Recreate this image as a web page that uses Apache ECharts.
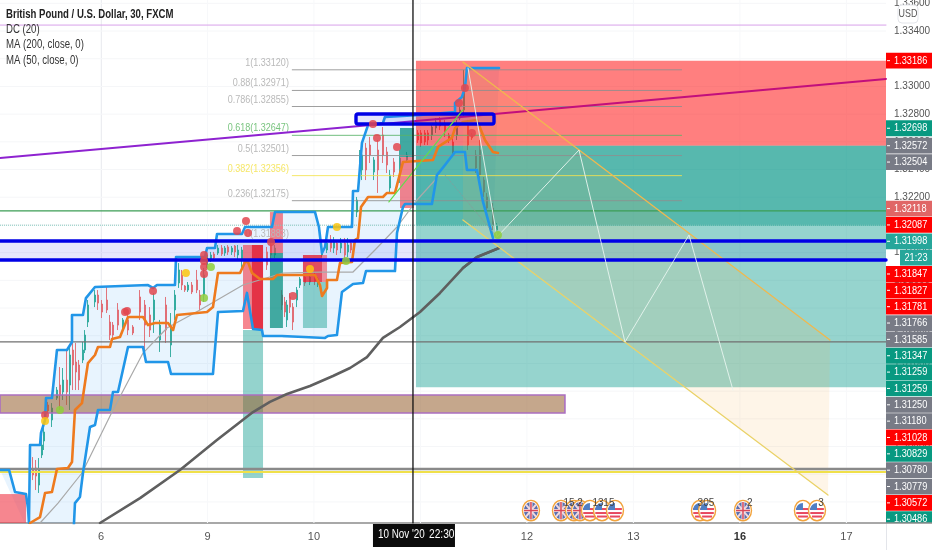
<!DOCTYPE html>
<html><head><meta charset="utf-8">
<style>html,body{margin:0;padding:0;background:#fff}#c{width:932px;height:550px}</style>
<script src="https://cdn.jsdelivr.net/npm/echarts@6/dist/echarts.min.js"></script>
</head><body><div id="c"></div>
<script>
// ---- axes (x is trading-day index: 0 = "6", 1 = "9", ...)
const dayLabels = ['6','9','10','11','12','13','16','17'];
const priceTicks = [1.336,1.334,1.332,1.330,1.328,1.326,1.324,1.322,1.320,1.318,1.316,1.314,1.312,1.310,1.308,1.306,1.304,1.302,1.300];
// ---- right-hand price tags
const tagPrices = [1.33186,1.32698,1.32572,1.32504,1.32118,1.32087,1.31998,1.31998,1.31847,1.31827,1.31781,1.31766,1.31585,1.31347,1.31259,1.31259,1.31250,1.31180,1.31028,1.30829,1.30780,1.30779,1.30572,1.30486];
const tagTexts = ['1.33186','1.32698','1.32572','1.32504','1.32118','1.32087','1.31998','21:23','1.31847','1.31827','1.31781','1.31766','1.31585','1.31347','1.31259','1.31259','1.31250','1.31180','1.31028','1.30829','1.30780','1.30779','1.30572','1.30486'];
const tagKinds = 'r t g g s r q q r r r g g t t t g g r t g g r t'.split(' ');
// ---- fibonacci
const fibPrices = [1.33120,1.32971,1.32855,1.32647,1.32501,1.32356,1.32175,1.31883];
const fibLabels = ['1(1.33120)','0.88(1.32971)','0.786(1.32855)','0.618(1.32647)','0.5(1.32501)','0.382(1.32356)','0.236(1.32175)','0(1.31883)'];
const fibSpan = [1.793,5.456];
// ---- donchian channel
const dcUpper = [[-0.948,1.30231],[-0.863,1.30231],[-0.807,1.30072],[-0.704,1.30057],[-0.685,1.29956],[-0.676,1.2985],[-0.666,1.30411],[-0.572,1.30411],[-0.563,1.30498],[-0.525,1.30592],[-0.516,1.3075],[-0.46,1.3075],[-0.413,1.31097],[-0.319,1.31097],[-0.272,1.31155],[-0.272,1.3135],[-0.169,1.3135],[-0.141,1.31472],[-0.056,1.31552],[0.442,1.31566],[0.489,1.31545],[0.526,1.31566],[0.695,1.31566],[0.705,1.31768],[0.977,1.31768],[0.996,1.31833],[1.071,1.31833],[1.09,1.31935],[1.324,1.31935],[1.353,1.31985],[1.606,1.31985],[1.634,1.32093],[2.01,1.32093],[2.047,1.31985],[2.076,1.31797],[2.104,1.31841],[2.132,1.31985],[2.357,1.31985],[2.367,1.32245],[2.414,1.32245],[2.451,1.32592],[2.508,1.32721],[2.648,1.32736],[2.667,1.32779],[2.996,1.32794],[3.325,1.32815],[3.325,1.3288],[3.39,1.32924],[3.418,1.32989],[3.437,1.33133],[3.738,1.33133]];
const dcLower = [[-0.666,1.29761],[-0.262,1.29761],[-0.253,1.29848],[-0.244,1.29992],[-0.197,1.30036],[-0.169,1.30209],[-0.103,1.30541],[-0.056,1.30555],[-0.028,1.30664],[0.085,1.30664],[0.113,1.30794],[0.16,1.30794],[0.254,1.31119],[0.395,1.31119],[0.423,1.3101],[0.63,1.3101],[0.658,1.30924],[1.052,1.30924],[1.099,1.31371],[1.334,1.31379],[1.371,1.31509],[1.428,1.31249],[1.512,1.31241],[1.522,1.31198],[1.7,1.31198],[1.71,1.31184],[2.104,1.31184],[2.132,1.31198],[2.216,1.31205],[2.263,1.31516],[2.367,1.31574],[2.461,1.31581],[2.489,1.31667],[2.761,1.31667],[2.78,1.31942],[2.836,1.32129],[2.855,1.32151],[3.108,1.32151],[3.155,1.3236],[3.231,1.32433],[3.325,1.32527],[3.418,1.32527],[3.437,1.32397],[3.531,1.32397],[3.588,1.32166],[3.681,1.31906]];
// ---- moving averages
const ma50 = [[-0.666,1.29848],[-0.572,1.29891],[-0.525,1.30065],[-0.46,1.30072],[-0.413,1.30238],[-0.31,1.30245],[-0.272,1.30288],[-0.244,1.30664],[-0.178,1.30714],[-0.122,1.31003],[-0.056,1.31061],[-0.028,1.31119],[0.085,1.31119],[0.104,1.31176],[0.179,1.31191],[0.254,1.31335],[0.395,1.31335],[0.442,1.31277],[0.508,1.31292],[0.63,1.31292],[0.677,1.31241],[0.714,1.3135],[0.996,1.31371],[1.052,1.31407],[1.099,1.31653],[1.306,1.31653],[1.353,1.31732],[1.381,1.31732],[1.419,1.31653],[1.493,1.3161],[1.615,1.3161],[1.653,1.31638],[2.01,1.31638],[2.057,1.31566],[2.076,1.31487],[2.123,1.31545],[2.123,1.31602],[2.216,1.31602],[2.245,1.31725],[2.357,1.31732],[2.385,1.31891],[2.414,1.31906],[2.442,1.32129],[2.508,1.32202],[2.648,1.32202],[2.686,1.32231],[2.761,1.32231],[2.836,1.32454],[3.118,1.32469],[3.165,1.32563],[3.296,1.32628],[3.325,1.327],[3.399,1.32743],[3.531,1.32758],[3.606,1.32613],[3.681,1.32527],[3.728,1.32519]];
const ma200 = [[-0.009,1.29848],[0.367,1.30028],[0.742,1.30231],[1.089,1.30447],[1.428,1.30649],[1.587,1.30722],[1.747,1.30779],[1.963,1.30837],[2.179,1.30909],[2.339,1.30967],[2.498,1.31046],[2.648,1.31184],[2.808,1.31263],[2.996,1.31371],[3.184,1.31509],[3.399,1.31689],[3.531,1.31768],[3.738,1.31833]];
const maThin = [[-0.572,1.29848],[-0.403,1.29992],[-0.178,1.30209],[0.113,1.30664],[0.395,1.31075],[0.62,1.31256],[0.93,1.31386],[1.334,1.31566],[1.71,1.31653],[2.057,1.3166],[2.367,1.3166],[2.573,1.31819],[2.78,1.31985],[2.968,1.3218],[3.155,1.32339]];
// ---- candles: [day, open, close, low, high]
const candlesA = [[-0.638,1.30231,1.30195,1.30158,1.30324],[-0.61,1.30245,1.30187,1.30086,1.30303],[-0.582,1.30122,1.30231,1.30065,1.30317],[-0.554,1.30339,1.30411,1.30317,1.30469],[-0.535,1.3044,1.30505,1.30375,1.30556],[-0.497,1.307,1.30657,1.30642,1.30722],[-0.46,1.30592,1.30678,1.30541,1.30714],[-0.413,1.3075,1.30808,1.30736,1.3083],[-0.385,1.30844,1.30772,1.30664,1.30974],[-0.356,1.30794,1.3088,1.30736,1.30967],[-0.319,1.3088,1.30794,1.307,1.31097],[-0.291,1.30844,1.31061,1.30664,1.31119],[-0.263,1.31097,1.30989,1.30808,1.31155],[-0.234,1.3101,1.30938,1.30808,1.31148],[-0.206,1.30989,1.3088,1.30808,1.31025],[-0.169,1.31025,1.31097,1.31003,1.31155],[-0.15,1.31097,1.31205,1.31075,1.31241],[-0.122,1.31299,1.31422,1.31263,1.31458],[-0.056,1.31444,1.31494,1.31407,1.3153],[-0.028,1.31494,1.31436,1.31386,1.3153],[0.01,1.31429,1.31371,1.31328,1.31458],[0.057,1.31458,1.31386,1.31364,1.31552],[0.085,1.31299,1.31205,1.31169,1.3135],[0.113,1.31277,1.31205,1.31169,1.31299],[0.16,1.31386,1.31277,1.31241,1.31436],[0.207,1.31263,1.31314,1.31241,1.31328],[0.254,1.31314,1.31241,1.31205,1.3135],[0.301,1.31263,1.3122,1.31205,1.31277],[0.367,1.3148,1.31371,1.31314,1.3153],[0.414,1.31422,1.31277,1.31097,1.31458],[0.461,1.3135,1.31241,1.31191,1.31407],[0.498,1.31314,1.31458,1.3122,1.31508],[0.554,1.31169,1.31277,1.31083,1.31314],[0.611,1.31422,1.31241,1.31148,1.3148],[0.658,1.31133,1.31277,1.31046,1.31364],[0.695,1.31386,1.31494,1.31314,1.3153]];
const candlesB = [[0.733,1.31581,1.31675,1.31545,1.31725],[0.761,1.31638,1.31566,1.3153,1.31675],[0.789,1.31559,1.3153,1.31516,1.31566],[0.817,1.3153,1.31566,1.31516,1.31588],[0.855,1.31566,1.31516,1.31501,1.31588],[0.902,1.31602,1.3153,1.31508,1.31675],[0.93,1.31494,1.31422,1.31386,1.3153],[0.968,1.31494,1.31638,1.31444,1.31689],[0.996,1.31711,1.31783,1.31689,1.31805],[1.033,1.31747,1.31783,1.31732,1.31805],[1.061,1.3179,1.31761,1.31747,1.31805],[1.099,1.31797,1.31833,1.31783,1.31855],[1.136,1.31833,1.3179,1.31776,1.31855],[1.165,1.31797,1.31833,1.31776,1.31848],[1.193,1.31841,1.31805,1.31783,1.31855],[1.231,1.31805,1.31833,1.31783,1.31848],[1.259,1.31848,1.31805,1.31768,1.31855],[1.287,1.31783,1.31819,1.31747,1.31855],[1.324,1.31747,1.31819,1.31689,1.31841],[1.559,1.31805,1.31711,1.31675,1.31841],[1.597,1.31855,1.31783,1.31732,1.31891],[1.634,1.31783,1.31833,1.31761,1.31855],[1.7,1.31494,1.31422,1.31386,1.3153],[1.728,1.31444,1.31371,1.31335,1.3148],[1.747,1.31314,1.31422,1.31263,1.31458],[1.775,1.3148,1.31407,1.31364,1.31508],[1.803,1.31407,1.31299,1.31241,1.31436],[1.841,1.31458,1.3153,1.31407,1.31552],[1.869,1.31566,1.3161,1.31545,1.31624],[1.916,1.31624,1.31581,1.31559,1.31638],[1.963,1.31588,1.31624,1.31566,1.31638],[2.01,1.31638,1.31595,1.31566,1.3166],[2.038,1.31573,1.3161,1.31552,1.31624],[2.076,1.31783,1.31805,1.31768,1.31819],[2.123,1.31819,1.31869,1.31797,1.31906],[2.16,1.31891,1.31833,1.31805,1.31927],[2.188,1.31833,1.31877,1.31797,1.31913],[2.216,1.31869,1.31819,1.31783,1.31891],[2.254,1.31833,1.31869,1.31797,1.31906],[2.292,1.31869,1.31783,1.31747,1.31906],[2.32,1.31805,1.31855,1.31768,1.31906],[2.348,1.31869,1.31819,1.31797,1.31891]];
const candlesC = [[2.404,1.32093,1.3218,1.32057,1.32202],[2.432,1.32411,1.32505,1.32375,1.32541],[2.451,1.32397,1.32505,1.32324,1.32541],[2.489,1.32555,1.32397,1.32324,1.32592],[2.526,1.32577,1.32505,1.32447,1.32635],[2.564,1.32382,1.32469,1.32324,1.3249],[2.601,1.32541,1.32397,1.32231,1.32613],[2.648,1.32649,1.32505,1.32447,1.32707],[2.686,1.32527,1.32433,1.32375,1.32563],[2.714,1.32267,1.3236,1.32231,1.32397],[2.752,1.32454,1.32382,1.32346,1.32483],[2.808,1.3236,1.32483,1.32303,1.32541],[2.874,1.32469,1.32505,1.32447,1.32527],[2.977,1.32664,1.32613,1.32592,1.32685],[3.005,1.32664,1.32592,1.32563,1.32685],[3.043,1.32664,1.32599,1.32577,1.32685],[3.071,1.32664,1.32613,1.32577,1.32685],[3.108,1.32649,1.32707,1.32613,1.32736],[3.146,1.327,1.32743,1.32664,1.32772],[3.184,1.32758,1.32714,1.32685,1.32779],[3.231,1.32721,1.32671,1.32635,1.32758],[3.268,1.32649,1.32613,1.32592,1.32664],[3.306,1.32599,1.32527,1.3249,1.32628],[3.343,1.32649,1.32721,1.32613,1.32758],[3.371,1.32772,1.3283,1.32758,1.32851],[3.409,1.3283,1.3301,1.32779,1.33119],[3.447,1.32721,1.32577,1.32541,1.32758],[3.484,1.32649,1.32628,1.32613,1.32664],[3.522,1.32505,1.32411,1.32375,1.32541],[3.559,1.32541,1.3236,1.32303,1.32613],[3.597,1.32324,1.32238,1.32202,1.32346],[3.625,1.32202,1.32122,1.32086,1.32231],[3.681,1.32122,1.31999,1.31963,1.32158],[3.719,1.31963,1.31992,1.31942,1.32014]];
// ---- markers: [day, price]
const redDots = [[-0.525,1.30628],[0.226,1.31371],[0.245,1.31379],[0.489,1.31523],[0.968,1.31783],[0.968,1.3174],[0.968,1.31696],[0.968,1.31646],[1.278,1.31956],[1.362,1.32028],[1.381,1.31942],[1.597,1.31877],[1.803,1.31487],[2.554,1.32729],[2.592,1.32628],[2.78,1.32563],[3.362,1.3288],[3.418,1.32989],[3.484,1.32664]];
const yellowDots = [[-0.525,1.30584],[0.798,1.31653],[1.963,1.31682],[2.216,1.31985]];
const greenDots = [[-0.385,1.30664],[1.033,1.31696],[0.968,1.31472],[2.301,1.3174],[3.728,1.31927]];
// ---- drawn levels and lines
const levelPurple = 1.33443, levelGreen = 1.32101, levelDotted = 1.31998, levelGrayMid = 1.31155, levelGrayLow = 1.30238, levelYellow = 1.30216;
const blueLevels = [1.31884,1.31747];
const trendLeft = [[-0.948,1.32483],[2.958,1.3275]];
const trendRight = [[2.958,1.3275],[7.372,1.33054]];
const channelUpper = [[3.399,1.33176],[6.846,1.31169]];
const channelLower = [[3.399,1.32036],[6.827,1.3005]];
const zigzag = [[3.447,1.33133],[3.719,1.31913],[4.489,1.32541],[4.921,1.31155],[5.522,1.31927],[5.935,1.30808]];
const greenRay = [[2.704,1.32166],[3.399,1.3283]];
const dottedRay = [[3.231,1.3236],[3.719,1.31913]];
const crossDay = 2.93;
// ---- boxes: [day0, priceA, day1, priceB]
const redZone = [[2.958,1.33186,7.372,1.32572]];
const tealZoneLight = [[2.958,1.32572,7.372,1.30829]];
const tealZoneDark = [[2.958,1.32572,7.372,1.31992]];
const brownBand = [[-0.948,1.30772,4.357,1.30642]];
const blueBox = [[2.395,1.32801,3.691,1.32729]];
const lavenderBand = [[-0.948,1.31884,7.372,1.31747]];
const pinkBoxes = [[1.334,1.31855,1.522,1.31249],[1.587,1.32093,1.709,1.31797],[-0.948,1.30057,-0.704,1.29848],[2.808,1.3249,2.939,1.32122]];
const strongRedBoxes = [[1.418,1.31855,1.522,1.31249],[1.897,1.31783,2.076,1.31588]];
const softRedBoxes = [[2.076,1.31783,2.123,1.31588]];
const paleTealBoxes = [[1.334,1.31241,1.522,1.30173],[1.897,1.31588,2.123,1.31256]];
const deepTealBoxes = [[1.587,1.31797,1.709,1.31256],[2.808,1.327,2.939,1.3249]];
// ---- economic calendar
const ukFlags = [4.038,4.320,4.442,4.498,6.029];
const usFlags = [4.592,4.705,4.827,5.625,5.692,6.592,6.724];
const flagPrice = 1.29938;
const eventDays = [4.395,4.498,4.667,4.770,5.681,6.094,6.761];
const eventTexts = ['15','2','13','15','305','2','3'];
const eventPrice = 1.29992;

const sans = '"Liberation Sans",Arial,sans-serif';
const yMin = 1.29848, yMax = 1.33624, xMin = -0.948, xMax = 7.372;
const tagColor = {r:'#ff0000',t:'#089981',g:'#787b86',s:'#e06666',q:'#26a69a'};

function line(data,color,width,z,extra){
  return Object.assign({type:'line',data,showSymbol:false,silent:true,z,clip:true,
    lineStyle:{color,width,cap:'round',join:'round'},animation:false},extra||{});
}
function hline(p,color,width,z,type,x0){
  return line([[x0===undefined?xMin:x0,p],[xMax,p]],color,width,z,type?{lineStyle:{color,width,type}}:{});
}
function box(data,fill,z,stroke,strokeW,r){
  return {type:'custom',data,z,silent:true,clip:true,encode:{x:[0,2],y:[1,3]},
    renderItem(params,api){
      const a=api.coord([api.value(0),api.value(1)]), b=api.coord([api.value(2),api.value(3)]);
      return {type:'rect',shape:{x:a[0],y:a[1],width:b[0]-a[0],height:b[1]-a[1],r:r||0},
        style:{fill,stroke:stroke||null,lineWidth:strokeW||0}};
    }};
}
function polygon(points,fill,z){
  return {type:'custom',data:[[points[0][0],points[0][1]]],z,silent:true,clip:true,encode:{x:0,y:1},
    renderItem(params,api){
      return {type:'polygon',shape:{points:points.map(p=>api.coord(p))},style:{fill}};
    }};
}
function dots(data,color,size,z){
  return {type:'scatter',data,symbolSize:size,z,silent:true,itemStyle:{color,opacity:.85}};
}
const ring=(c)=>({type:'ellipse',shape:{cx:c[0],cy:c[1],rx:8.5,ry:10.2},style:{fill:'#fff',stroke:'#f2a33c',lineWidth:1.4}});

const series = [
  {type:'custom',data:priceTicks.map(p=>[xMin,p]),z:1,silent:true,encode:{x:0,y:1},
    renderItem(params,api){
      const a=api.coord([xMin,api.value(1)]),b=api.coord([xMax,api.value(1)]);
      return {type:'line',shape:{x1:a[0],y1:a[1],x2:b[0],y2:b[1]},style:{stroke:'#f5f6f8',lineWidth:1}};
    }},
  {type:'custom',data:dayLabels.map((d,i)=>[i,yMin]),z:1,silent:true,encode:{x:0,y:1},
    renderItem(params,api){
      const a=api.coord([api.value(0),yMin]),b=api.coord([api.value(0),yMax]);
      return {type:'line',shape:{x1:a[0],y1:a[1],x2:b[0],y2:b[1]},style:{stroke:'#f7f8fa',lineWidth:1}};
    }},
  box(lavenderBand,'rgba(40,40,230,0.11)',1),
  {type:'candlestick',data:candlesA.concat(candlesB,candlesC),encode:{x:0,y:[1,2,3,4]},barWidth:1.6,z:2,silent:true,
    itemStyle:{color:'#2aa79a',color0:'#e0666e',borderColor:'#2aa79a',borderColor0:'#e0666e',borderWidth:1,opacity:.9}},
  polygon(dcUpper.concat(dcLower.slice().reverse()),'rgba(33,150,243,0.10)',2),
  box(paleTealBoxes,'rgba(0,150,136,0.42)',3),
  box(deepTealBoxes,'rgba(0,140,125,0.72)',3),
  box(pinkBoxes,'rgba(240,60,75,0.62)',3),
  box(strongRedBoxes,'rgba(225,30,50,0.78)',3),
  box(softRedBoxes,'rgba(240,60,75,0.55)',3),
  line(ma200.slice(-3),'#555',2.5,3),
  box(redZone,'rgba(255,0,0,0.5)',4),
  box(tealZoneLight,'rgba(0,150,136,0.41)',4),
  box(tealZoneDark,'rgba(0,145,130,0.42)',4),
  box(brownBand,'rgba(150,95,45,0.55)',4,'#ab6fc0',1.6),
  polygon([channelUpper[0],channelUpper[1],channelLower[1],channelLower[0]],'rgba(250,180,80,0.13)',5),
  hline(levelPurple,'#d8a2ea',1,5),
  hline(levelGreen,'#3d9d55',1.2,5),
  hline(levelDotted,'#86c9bd',1,5,'dotted'),
  hline(levelGrayMid,'#707070',1.2,5),
  hline(levelGrayLow,'#8a8a8a',2.6,5),
  hline(levelYellow,'#f0e04a',2,5),
  {type:'custom',data:fibPrices.map((p,i)=>[fibSpan[0],p,i]),z:5,silent:true,encode:{x:0,y:1},clip:false,
    renderItem(params,api){
      const i=api.value(2),a=api.coord([fibSpan[0],api.value(1)]),b=api.coord([fibSpan[1],api.value(1)]);
      const col=i===3?'#58b368':i===5?'#f2e24f':'#8e8e8e', tc=i===3?'#79c47f':i===5?'#f6e769':'#b9b9b9';
      return {type:'group',children:[
        {type:'line',shape:{x1:a[0],y1:a[1],x2:b[0],y2:b[1]},style:{stroke:col,lineWidth:1,opacity:.85}},
        {type:'text',x:a[0]-3,y:a[1]-7,scaleX:.82,style:{text:fibLabels[i],fill:tc,font:'11px '+sans,align:'right',verticalAlign:'middle'}}
      ]};
    }},
  line(maThin,'#a9a9a9',1.2,6),
  line(ma200,'#5f5f5f',2.6,6),
  line(dcUpper,'#2196e8',2.6,6),
  line(dcLower,'#2196e8',2.6,6),
  line(ma50,'#ee7a1e',2.6,6),
  line(trendLeft,'#8e22d0',2,6),
  line(trendRight,'#c20f7c',2,6),
  line(greenRay,'#62dc4c',1.2,7),
  line(dottedRay,'#8a9a9a',1,7,{lineStyle:{color:'#8a9a9a',width:1,type:'dotted'}}),
  line(channelUpper,'#f0b84e',1.3,7),
  line(channelLower,'#ead268',1.3,7),
  line(zigzag,'rgba(232,245,240,0.9)',1,8),
  hline(blueLevels[0],'#0000e6',3.4,7),
  hline(blueLevels[1],'#0000e6',3.4,7),
  box(blueBox,'rgba(50,50,230,0.12)',7,'#0000e6',3.4,2),
  dots(redDots,'#e2464f',8,8),
  dots(yellowDots,'#fbc60f',8,8),
  dots(greenDots,'#8fce3c',8,8),
  {type:'custom',data:ukFlags.map(t=>[t,flagPrice]),z:9,silent:true,clip:false,encode:{x:0,y:1},
    renderItem(params,api){
      const c=api.coord([api.value(0),api.value(1)]);
      const bar=(x1,y1,x2,y2,col,w)=>({type:'line',shape:{x1:c[0]+x1,y1:c[1]+y1,x2:c[0]+x2,y2:c[1]+y2},style:{stroke:col,lineWidth:w}});
      return {type:'group',children:[
        ring(c),
        {type:'ellipse',shape:{cx:c[0],cy:c[1],rx:7,ry:8.6},style:{fill:'#5a6fae'}},
        bar(-5,-6,5,6,'#f3d7dc',2),bar(-5,6,5,-6,'#f3d7dc',2),
        bar(-7,0,7,0,'#f5e8ea',3),bar(0,-8.6,0,8.6,'#f5e8ea',3),
        bar(-7,0,7,0,'#d9485a',1.5),bar(0,-8.6,0,8.6,'#d9485a',1.5)
      ]};
    }},
  {type:'custom',data:usFlags.map(t=>[t,flagPrice]),z:9,silent:true,clip:false,encode:{x:0,y:1},
    renderItem(params,api){
      const c=api.coord([api.value(0),api.value(1)]),kids=[ring(c)];
      [-1.5,2.5,6].forEach(dy=>{const h=7*Math.sqrt(1-dy*dy/74);
        kids.push({type:'line',shape:{x1:c[0]-h,y1:c[1]+dy,x2:c[0]+h,y2:c[1]+dy},style:{stroke:'#e8495f',lineWidth:2}});});
      kids.push({type:'sector',shape:{cx:c[0],cy:c[1]-.5,r:7,r0:0,startAngle:Math.PI,endAngle:Math.PI*1.5},style:{fill:'#4f7ec4'}});
      return {type:'group',children:kids};
    }},
  {type:'custom',data:eventDays.map((t,i)=>[t,eventPrice,i]),z:10,silent:true,clip:false,encode:{x:0,y:1},
    renderItem(params,api){
      const c=api.coord([api.value(0),api.value(1)]);
      return {type:'text',x:c[0],y:c[1],style:{text:eventTexts[api.value(2)],fill:'#444',font:'10px '+sans,align:'center',verticalAlign:'middle'}};
    }},
  line([[crossDay,yMin],[crossDay,yMax]],'#111',1.3,12),
  {type:'custom',data:[[crossDay,yMin]],z:20,silent:true,clip:false,encode:{x:0,y:1},
    renderItem(params,api){
      const c=api.coord([api.value(0),api.value(1)]);
      return {type:'group',children:[
        {type:'rect',shape:{x:c[0]-40,y:c[1]+1,width:82,height:23},style:{fill:'#0c0c0c'}},
        {type:'text',x:c[0]-35,y:c[1]+12,scaleX:.82,style:{text:"10 Nov '20",fill:'#fff',font:'12px '+sans,verticalAlign:'middle'}},
        {type:'text',x:c[0]+16,y:c[1]+12,scaleX:.85,style:{text:'22:30',fill:'#fff',font:'12px '+sans,verticalAlign:'middle'}}
      ]};
    }},
  (function(){
    let last=-1e9;
    return {type:'custom',data:tagPrices.map((p,i)=>[xMax,p,i]),z:22,silent:true,clip:false,encode:{x:0,y:1},
      renderItem(params,api){
        const i=api.value(2),c=api.coord([xMax,api.value(1)]);
        if(i===0) last=-1e9;
        const y=Math.max(c[1],last+16.35); last=y;
        const timer=tagTexts[i].indexOf(':')>0, x0=c[0]+(timer?14:0);
        const kids=[{type:'rect',shape:{x:x0,y:y-7.9,width:46-(timer?14:0),height:15.8},style:{fill:tagColor[tagKinds[i]]}},
          {type:'text',x:timer?x0+16:c[0]+8,y:y,scaleX:.8,style:{text:tagTexts[i],fill:'#fff',font:'11.5px '+sans,align:timer?'center':'left',verticalAlign:'middle'}}];
        if(!timer) kids.push({type:'line',shape:{x1:c[0]+1,y1:y,x2:c[0]+4,y2:y},style:{stroke:'#fff',lineWidth:1}});
        return {type:'group',children:kids};
      }};
  })(),
  // cuts the last tag off at the time-axis line, as in the reference
  {type:'custom',data:[[xMax,yMin]],z:23,silent:true,clip:false,encode:{x:0,y:1},
    renderItem(params,api){
      const c=api.coord([xMax,yMin]);
      return {type:'group',children:[
        {type:'rect',shape:{x:c[0],y:c[1],width:46,height:27},style:{fill:'#fff'}},
        {type:'line',shape:{x1:c[0]+.5,y1:c[1],x2:c[0]+.5,y2:c[1]+27},style:{stroke:'#e3e5ea',lineWidth:1}},
        {type:'line',shape:{x1:c[0],y1:c[1],x2:c[0]+46,y2:c[1]},style:{stroke:'#8c8c8c',lineWidth:1.5}}
      ]};
    }}
];

const chart = echarts.init(document.getElementById('c'),null,{renderer:'canvas'});
chart.setOption({
  animation:false,backgroundColor:'#fff',
  grid:{left:0,right:46,top:0,height:523,containLabel:false,outerBoundsMode:'none'},
  xAxis:{type:'value',min:xMin,max:xMax,
    axisLine:{show:true,onZero:false,lineStyle:{color:'#8c8c8c',width:1.5}},axisTick:{show:false},splitLine:{show:false},
    axisLabel:{customValues:[0,1,2,3,4,5,6,7],margin:8,color:'#555',fontFamily:sans,fontSize:11,
      formatter:v=>{const s=dayLabels[Math.round(v)];return s==='16'?'{b|16}':s;},rich:{b:{fontWeight:'bold',color:'#333',fontFamily:sans,fontSize:11}}}},
  yAxis:{type:'value',position:'right',min:yMin,max:yMax,
    axisLine:{show:true,lineStyle:{color:'#e3e5ea',width:1}},axisTick:{show:false},splitLine:{show:false},
    axisLabel:{customValues:priceTicks,margin:8,color:'#555',fontFamily:sans,fontSize:10,formatter:v=>v.toFixed(5)}},
  graphic:[
    {type:'text',x:6,y:15,scaleX:.8,z:30,style:{text:'British Pound / U.S. Dollar, 30, FXCM',fill:'#222',font:'bold 12px '+sans,verticalAlign:'middle'}},
    {type:'text',x:6,y:30,scaleX:.8,z:30,style:{text:'DC (20)',fill:'#333',font:'12px '+sans,verticalAlign:'middle'}},
    {type:'text',x:6,y:45,scaleX:.8,z:30,style:{text:'MA (200, close, 0)',fill:'#333',font:'12px '+sans,verticalAlign:'middle'}},
    {type:'text',x:6,y:61,scaleX:.8,z:30,style:{text:'MA (50, close, 0)',fill:'#333',font:'12px '+sans,verticalAlign:'middle'}},
    {type:'rect',x:898,y:5,z:30,shape:{width:20,height:18,r:4},style:{fill:'#fff',stroke:'#e3e5ea',lineWidth:1}},
    {type:'text',x:908,y:14,z:31,scaleX:.85,style:{text:'USD',fill:'#555',font:'10.5px '+sans,align:'center',verticalAlign:'middle'}}
  ],
  series
});
</script></body></html>
